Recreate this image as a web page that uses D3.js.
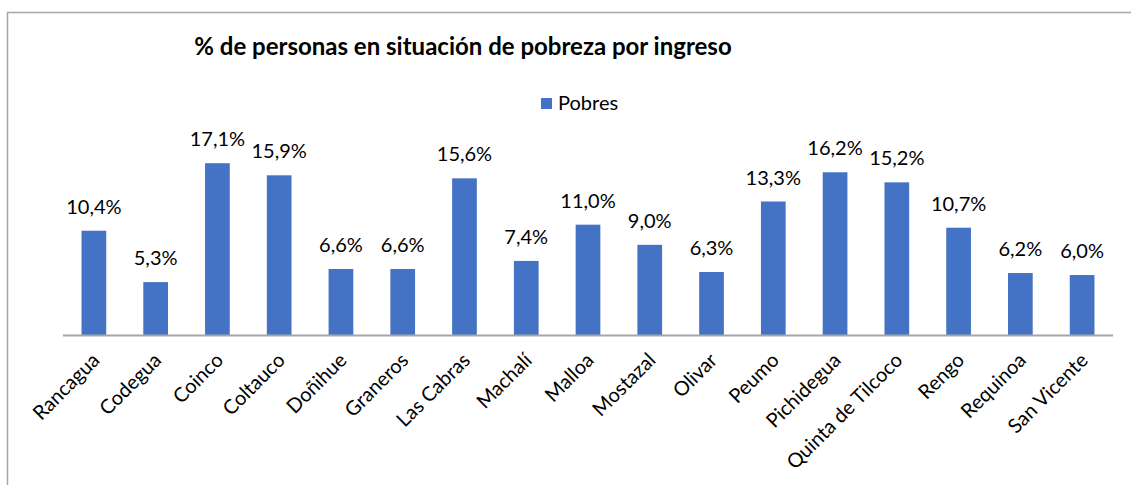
<!DOCTYPE html>
<html>
<head>
<meta charset="utf-8">
<script src="https://cdn.jsdelivr.net/npm/d3@7"></script>
<style>
  body { margin: 0; background: #fff; }
  svg { display: block; }
  text { font-family: Lato, "Open Sans", sans-serif; fill: #000; }
</style>
</head>
<body>
<svg></svg>
<script>
var WIDTH = 1131;
var HEIGHT = 485;

var comunas = ["Rancagua", "Codegua", "Coinco", "Coltauco", "Doñihue", "Graneros",
    "Las Cabras", "Machalí", "Malloa", "Mostazal", "Olivar", "Peumo", "Pichidegua",
    "Quinta de Tilcoco", "Rengo", "Requinoa", "San Vicente"];
var pobres = [10.4, 5.3, 17.1, 15.9, 6.6, 6.6, 15.6, 7.4, 11.0, 9.0, 6.3, 13.3, 16.2,
    15.2, 10.7, 6.2, 6.0];
var seriesName = "Pobres";
var title = "% de personas en situación de pobreza por ingreso";

var svg = d3.select("svg")
    .attr("width", WIDTH)
    .attr("height", HEIGHT);

// chart frame (runs off the right and bottom edges)
svg.append("rect")
    .attr("x", 7.5).attr("y", 12.5)
    .attr("width", WIDTH).attr("height", HEIGHT)
    .attr("fill", "none")
    .attr("stroke", "#a6a6a6")
    .attr("stroke-width", 1.5);

var x = d3.scaleBand()
    .domain(comunas)
    .range([63, 1113])
    .paddingInner(0.6)
    .paddingOuter(0.3);

var y = d3.scaleLinear()
    .domain([0, 20])
    .range([335.5, 134]);

svg.append("g")
    .selectAll("rect")
    .data(pobres)
    .enter()
    .append("rect")
    .attr("x", function(d, i) { return x(comunas[i]); })
    .attr("y", function(d) { return y(d); })
    .attr("width", x.bandwidth())
    .attr("height", function(d) { return y(0) - y(d); })
    .attr("fill", "#4472c4");

// value labels
svg.append("g")
    .selectAll("text")
    .data(pobres)
    .enter()
    .append("text")
    .attr("x", function(d, i) { return x(comunas[i]) + x.bandwidth() / 2; })
    .attr("y", function(d) { return y(d) - 17; })
    .attr("text-anchor", "middle")
    .style("font-size", "20px")
    .text(function(d) { return d.toFixed(1).replace(".", ",") + "%"; });

// x axis
var xAxis = svg.append("g")
    .attr("transform", "translate(0," + y(0) + ")")
    .call(d3.axisBottom(x).tickSize(0).tickPadding(0));

xAxis.select(".domain")
    .attr("stroke", "#a6a6a6")
    .attr("stroke-width", 2)
    .attr("d", "M63,0H1113");

xAxis.selectAll("text")
    .style("font-family", "Lato, 'Open Sans', sans-serif")
    .style("font-size", "20px")
    .attr("fill", "#000")
    .attr("text-anchor", "end")
    .attr("dy", null)
    .attr("y", null)
    .attr("transform", "translate(7,26) rotate(-45)");

// title
svg.append("text")
    .attr("x", 463)
    .attr("y", 55)
    .attr("text-anchor", "middle")
    .style("font-size", "24px")
    .style("font-weight", "bold")
    .text(title);

// legend
var legend = svg.append("g").attr("transform", "translate(541,98)");
legend.append("rect")
    .attr("width", 11).attr("height", 11)
    .attr("fill", "#4472c4");
legend.append("text")
    .attr("x", 17).attr("y", 11.5)
    .style("font-size", "20px")
    .text(seriesName);
</script>
</body>
</html>
